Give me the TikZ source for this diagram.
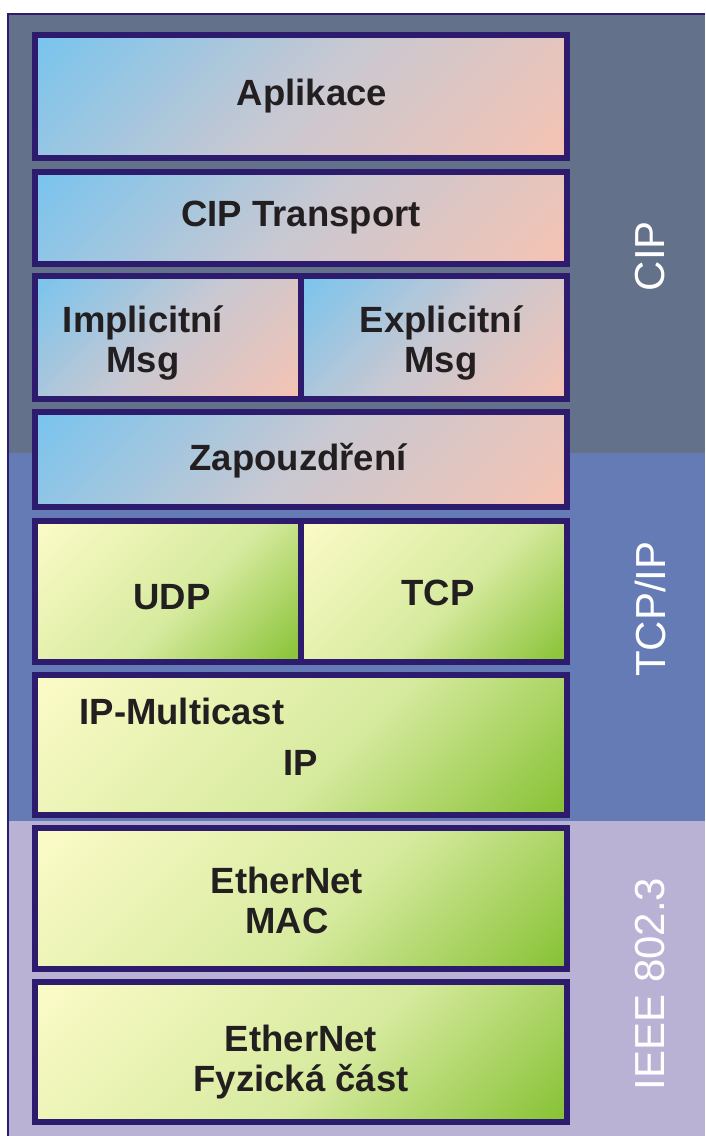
\documentclass[tikz,border=0pt]{standalone}
\usepackage{fontspec}
\setmainfont{Liberation Sans}
\definecolor{frameblue}{HTML}{2D1B6E}
\definecolor{bandcip}{HTML}{63718A}
\definecolor{bandtcp}{HTML}{657BB5}
\definecolor{bandieee}{HTML}{B9B2D5}
\definecolor{txt}{HTML}{231F20}
\definecolor{bluea}{HTML}{78C4EE}
\definecolor{bluem}{HTML}{C8C8D2}
\definecolor{blueb}{HTML}{F6C3B2}
\definecolor{greena}{HTML}{FCFBC8}
\definecolor{greenm}{HTML}{D6EA9E}
\definecolor{greenb}{HTML}{86C133}
\pgfdeclareverticalshading{bluegrad}{100bp}{color(0bp)=(blueb); color(14.6bp)=(blueb); color(50bp)=(bluem); color(85.4bp)=(bluea); color(100bp)=(bluea)}
\pgfdeclareverticalshading{greengrad}{100bp}{color(0bp)=(greenb); color(14.6bp)=(greenb); color(45bp)=(greenm); color(85.4bp)=(greena); color(100bp)=(greena)}
\begin{document}
\begin{tikzpicture}[x=1pt,y=-1pt,
  boxline/.style={draw=frameblue,line width=6pt},
  bluebox/.style={boxline,shading=bluegrad,shading angle=45},
  greenbox/.style={boxline,shading=greengrad,shading angle=45},
  lbl/.style={font=\bfseries\fontsize{36.5}{40}\selectfont,text=txt,inner sep=0pt,align=center},
  band/.style={font=\fontsize{42}{46}\selectfont,text=white,inner sep=0pt,rotate=90}]
\useasboundingbox (0,0) rectangle (705,1136);
\fill[white] (0,0) rectangle (705,1136);
\fill[bandcip] (8,14) rectangle (705,453);
\fill[bandtcp] (8,453) rectangle (705,821);
\fill[bandieee] (8,821) rectangle (705,1136);
\draw[frameblue,line width=2pt] (7.5,1136) -- (7.5,14) -- (705,14);
% boxes
\path[bluebox] (35,35) rectangle (567,158);
\path[bluebox] (35,172) rectangle (567,264);
\path[bluebox] (35,276) rectangle (301,399);
\path[bluebox] (301,276) rectangle (567,399);
\path[bluebox] (35,412) rectangle (567,507);
\path[greenbox] (35,521) rectangle (301,662);
\path[greenbox] (301,521) rectangle (567,662);
\path[greenbox] (35,675) rectangle (567,815);
\path[greenbox] (35,828) rectangle (567,969);
\path[greenbox] (35,982) rectangle (567,1122);
% labels
\node[lbl] (apl) at (312,96) {Aplikace};
\node[lbl] (cipt) at (301,218) {CIP Transport};
\node[lbl] (impl) at (143,343) {Implicitní\\Msg};
\node[lbl] (expl) at (441,343) {Explicitní\\Msg};
\node[lbl] (zap) at (298,461) {Zapouzdření};
\node[lbl] (udp) at (172,597) {UDP};
\node[lbl] (tcp) at (438,593) {TCP};
\node[lbl] (ipm) at (182,711) {IP-Multicast};
\node[lbl] (ip) at (301,763) {IP};
\node[lbl] (mac) at (287,900) {EtherNet\\MAC};
\node[lbl] (phy) at (301,1062) {EtherNet\\Fyzická část};
\node[band] (bcip) at (650,256) {CIP};
\node[band] (btcp) at (650,609) {TCP/IP};
\node[band] (bieee) at (650,984) {IEEE 802.3};
\end{tikzpicture}
\end{document}
